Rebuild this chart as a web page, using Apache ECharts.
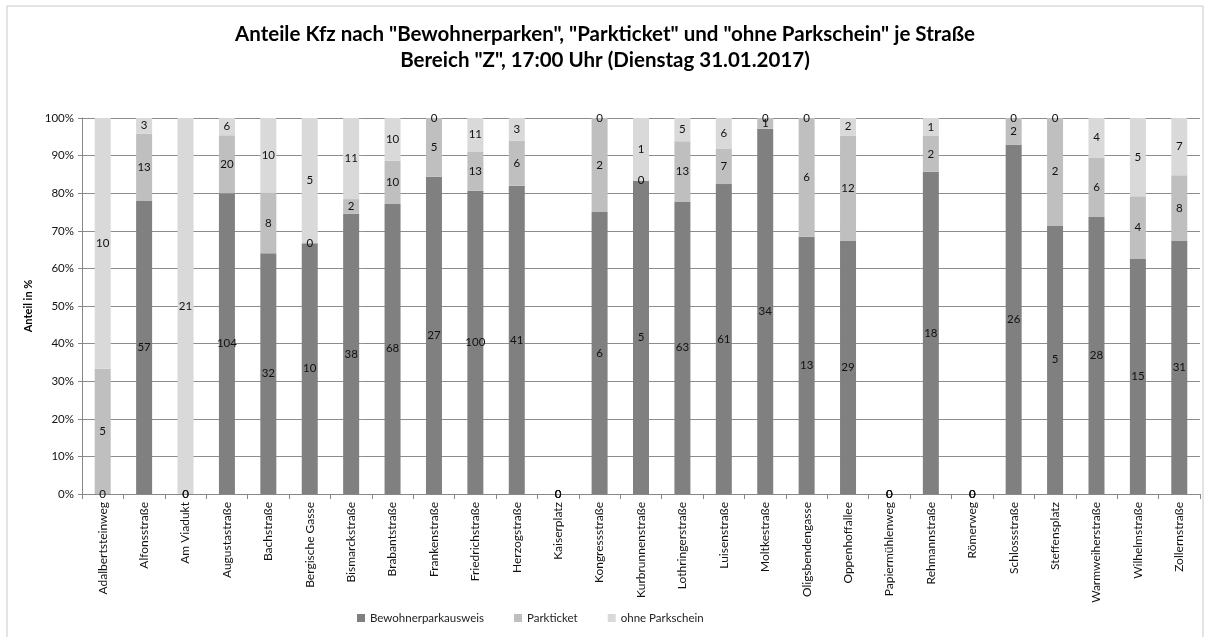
<!DOCTYPE html>
<html>
<head>
<meta charset="utf-8">
<script src="https://cdn.jsdelivr.net/npm/echarts@6/dist/echarts.min.js"></script>
<style>
  html, body { margin: 0; padding: 0; background: #fff; }
  #chart { width: 1210px; height: 637px; }
</style>
</head>
<body>
<div id="chart"></div>
<script>
var strassen = ['Adalbertsteinweg', 'Alfonsstraße', 'Am Viadukt', 'Augustastraße', 'Bachstraße',
  'Bergische Gasse', 'Bismarckstraße', 'Brabantstraße', 'Frankenstraße', 'Friedrichstraße',
  'Herzogstraße', 'Kaiserplatz', 'Kongressstraße', 'Kurbrunnenstraße', 'Lothringerstraße',
  'Luisenstraße', 'Moltkestraße', 'Oligsbendengasse', 'Oppenhoffallee', 'Papiermühlenweg',
  'Rehmannstraße', 'Römerweg', 'Schlossstraße', 'Steffensplatz', 'Warmweiherstraße',
  'Wilhelmstraße', 'Zollernstraße'];
var bewohner = [0, 57, 0, 104, 32, 10, 38, 68, 27, 100, 41, 0, 6, 5, 63, 61, 34, 13, 29, 0, 18, 0, 26, 5, 28, 15, 31];
var parkticket = [5, 13, 0, 20, 8, 0, 2, 10, 5, 13, 6, 0, 2, 0, 13, 7, 1, 6, 12, 0, 2, 0, 2, 2, 6, 4, 8];
var ohneSchein = [10, 3, 21, 6, 10, 5, 11, 10, 0, 11, 3, 0, 0, 1, 5, 6, 0, 0, 2, 0, 1, 0, 0, 0, 4, 5, 7];

// Anteile je Straße in Prozent
function anteil(arr) {
  return arr.map(function (v, i) {
    var sum = bewohner[i] + parkticket[i] + ohneSchein[i];
    return sum ? v / sum * 100 : 0;
  });
}

function reihe(name, roh, farbe) {
  return {
    name: name,
    type: 'bar',
    stack: 'gesamt',
    barWidth: 16,
    data: anteil(roh),
    itemStyle: { color: farbe },
    label: {
      show: true,
      position: 'inside',
      color: '#111',
      fontSize: 11.5,
      fontFamily: 'Lato, sans-serif',
      formatter: function (p) { return roh[p.dataIndex]; }
    }
  };
}

var myChart = echarts.init(document.getElementById('chart'));
var option = {
  animation: false,
  title: {
    text: 'Anteile Kfz nach "Bewohnerparken", "Parkticket" und "ohne Parkschein" je Straße\nBereich "Z", 17:00 Uhr (Dienstag 31.01.2017)',
    left: 'center',
    top: 16,
    textStyle: { fontSize: 20.5, fontWeight: 'bold', color: '#000', fontFamily: 'Lato, sans-serif', lineHeight: 26 }
  },
  graphic: [{
    type: 'rect',
    shape: { x: 7, y: 6, width: 1196, height: 640 },
    style: { fill: 'none', stroke: '#c8c8c8', lineWidth: 1 }
  }],
  legend: {
    bottom: 8,
    left: 352,
    itemWidth: 8,
    itemHeight: 8,
    itemGap: 30,
    icon: 'rect',
    textStyle: { fontSize: 11.5, color: '#222', fontFamily: 'Lato, sans-serif' },
    data: ['Bewohnerparkausweis', 'Parkticket', 'ohne Parkschein']
  },
  grid: { left: 82, right: 10, top: 118, bottom: 143 },
  xAxis: {
    type: 'category',
    data: strassen,
    axisLine: { lineStyle: { color: '#888' } },
    axisTick: { show: true, lineStyle: { color: '#888' } },
    axisLabel: { rotate: 90, fontSize: 12, color: '#111', margin: 8, interval: 0, fontFamily: 'Lato, sans-serif' }
  },
  yAxis: {
    type: 'value',
    min: 0,
    max: 100,
    interval: 10,
    name: 'Anteil in %',
    nameLocation: 'middle',
    nameGap: 46,
    nameTextStyle: { fontSize: 11, fontWeight: 'bold', color: '#000', fontFamily: 'Lato, sans-serif' },
    axisLine: { show: true, lineStyle: { color: '#888' } },
    axisTick: { show: true, inside: false, length: 4, lineStyle: { color: '#888' } },
    axisLabel: { formatter: '{value}%', fontSize: 11.5, color: '#111', fontFamily: 'Lato, sans-serif' },
    splitLine: { lineStyle: { color: '#8c8c8c' } }
  },
  series: [
    reihe('Bewohnerparkausweis', bewohner, '#808080'),
    reihe('Parkticket', parkticket, '#bfbfbf'),
    reihe('ohne Parkschein', ohneSchein, '#d9d9d9')
  ]
};
myChart.setOption(option);
</script>
</body>
</html>
